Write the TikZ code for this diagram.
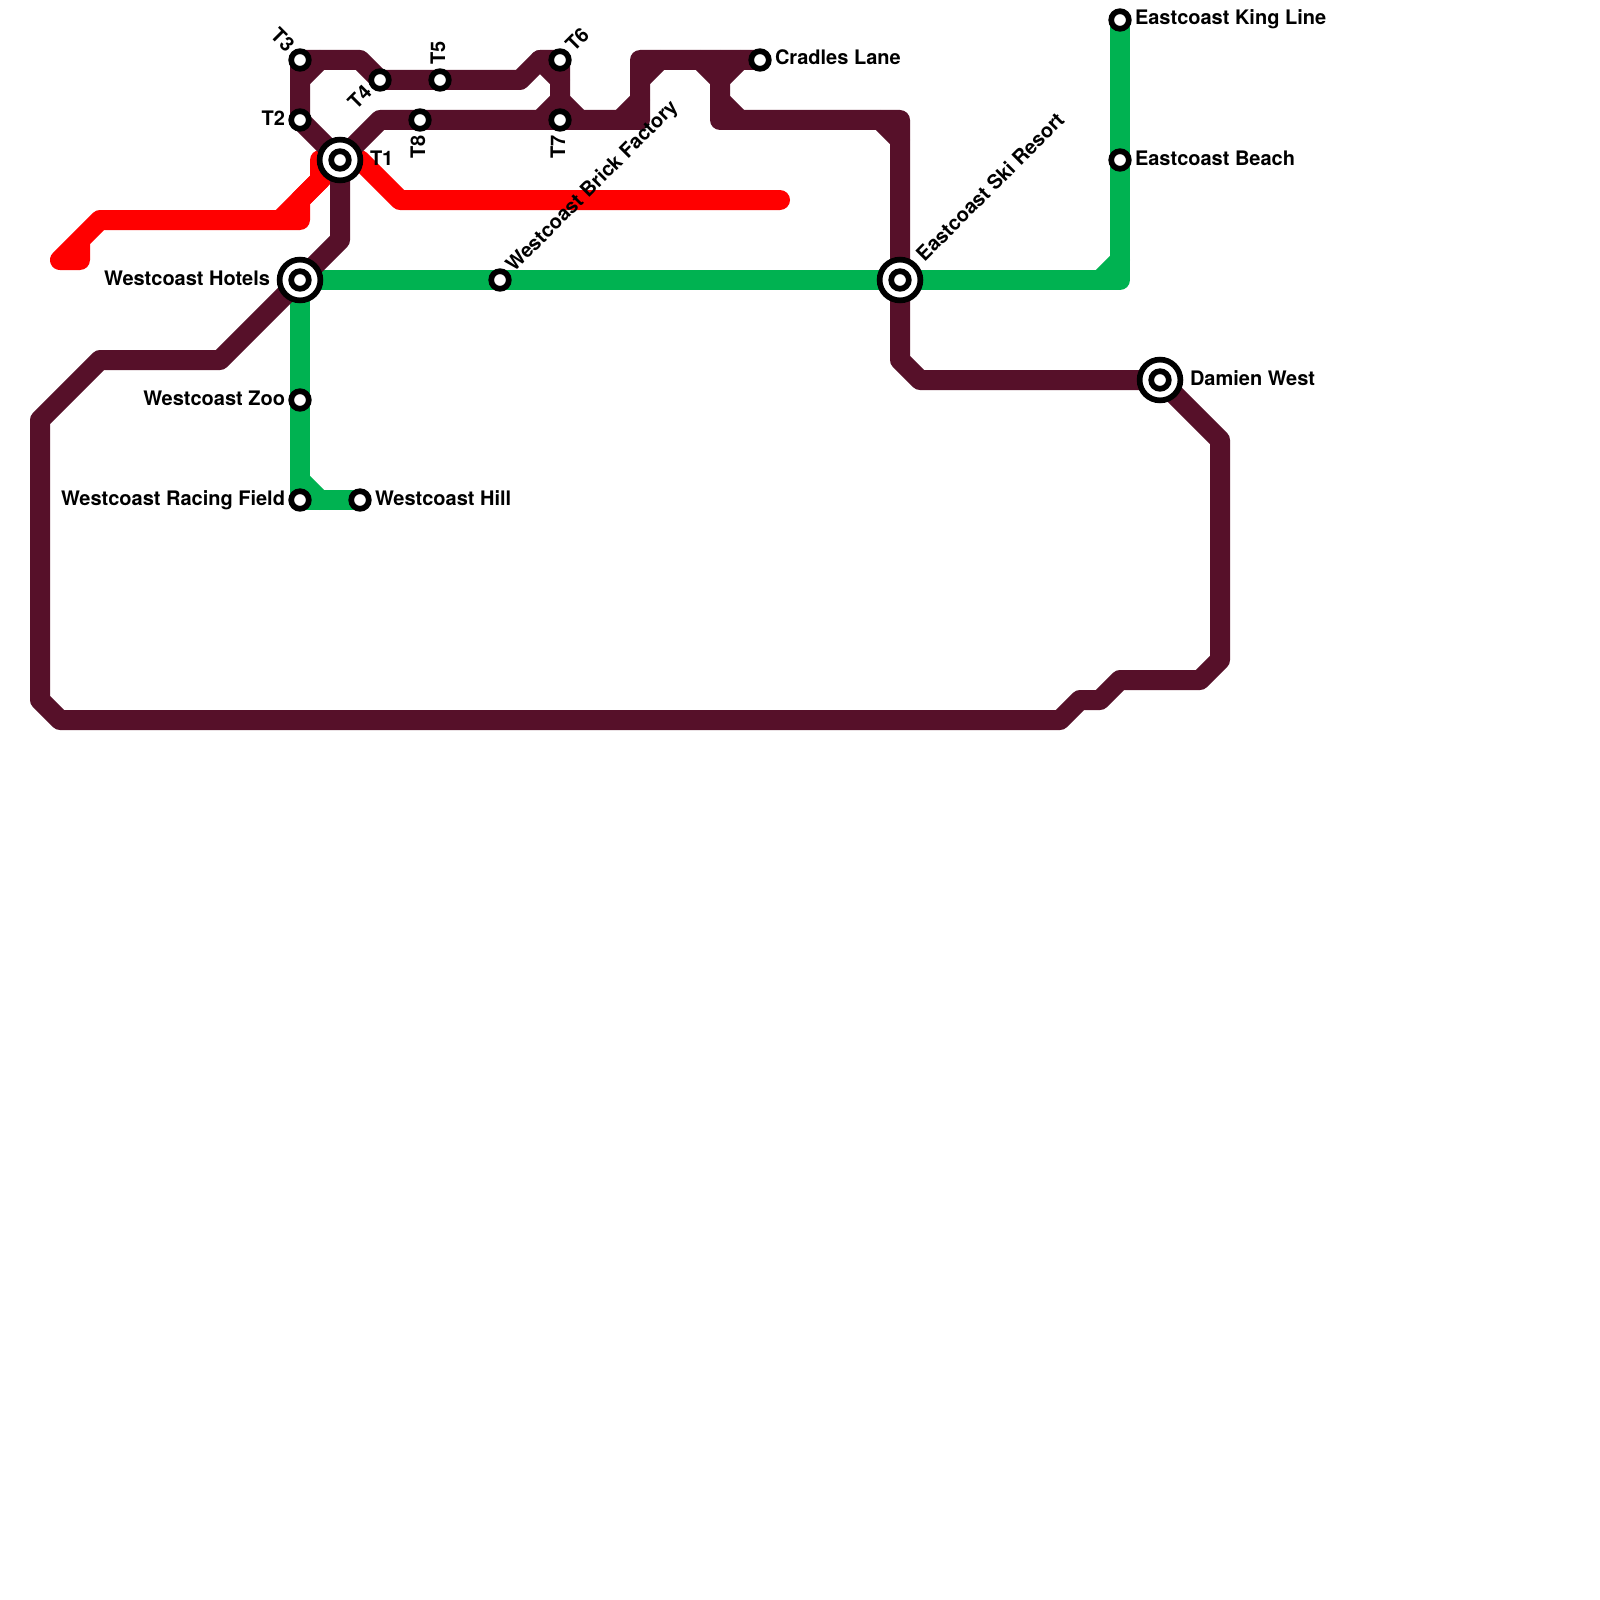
\documentclass[tikz,border=0pt]{standalone}
\usepackage{fontspec}
\setmainfont{TeX Gyre Heros}
\definecolor{plum}{HTML}{561029}
\definecolor{metrogreen}{HTML}{00B251}
\definecolor{metrored}{HTML}{FF0000}
\tikzset{
  route/.style={line width=20pt,line cap=round,line join=round},
  stop/.style={circle,draw=black,fill=white,line width=5.7pt,minimum size=17.6pt,inner sep=0pt,outer sep=0pt},
  hub/.style={circle,draw=black,fill=white,line width=5.7pt,minimum size=40.8pt,inner sep=0pt,outer sep=0pt},
  lbl/.style={inner sep=0pt,outer sep=0pt,font=\fontsize{20pt}{22pt}\selectfont\bfseries}
}
\begin{document}
\begin{tikzpicture}[x=1pt,y=-1pt]
\useasboundingbox (0,0) rectangle (1600,1600);
% station positions
\coordinate (T1) at (340,160);
\coordinate (T2) at (300,120);
\coordinate (T3) at (300,60);
\coordinate (T4) at (380,80);
\coordinate (T5) at (440,80);
\coordinate (T6) at (560,60);
\coordinate (T7) at (560,120);
\coordinate (T8) at (420,120);
\coordinate (CL) at (760,60);
\coordinate (WH) at (300,280);
\coordinate (WB) at (500,280);
\coordinate (ES) at (900,280);
\coordinate (EK) at (1120,20);
\coordinate (EB) at (1120,160);
\coordinate (DW) at (1160,380);
\coordinate (WZ) at (300,400);
\coordinate (WR) at (300,500);
\coordinate (WI) at (360,500);
% red
\draw[route,metrored] (80,240)--(80,260)--(60,260)--(100,220)--(300,220)--(300,200)--(T1);
\draw[route,metrored] (320,180)--(320,160)--(T1)--(360,160)--(400,200)--(780,200);
\draw[route,metrored] (280,220)--(320,180);
% green
\draw[route,metrogreen] (EK)--(EB)--(1120,280)--(ES)--(WB)--(WH)--(WZ)--(WR)--(WI);
\draw[route,metrogreen] (1100,280)--(1120,260);
\draw[route,metrogreen] (300,480)--(320,500);
% plum
\draw[route,plum] (T1)--(380,120)--(T8)--(T7)--(640,120)--(640,60)--(CL);
\draw[route,plum] (T1)--(T2)--(T3)--(360,60)--(T4)--(T5)--(520,80)--(540,60)--(T6)--(T7);
\draw[route,plum] (T1)--(340,240)--(WH)--(220,360)--(100,360)--(40,420)--(40,700)--(60,720)--(1060,720)--(1080,700)--(1100,700)--(1120,680)--(1200,680)--(1220,660)--(1220,440)--(DW)--(920,380)--(900,360)--(ES)--(900,120)--(720,120)--(720,60);
\draw[route,plum] (300,80)--(320,60);
\draw[route,plum] (540,60)--(560,80);
\draw[route,plum] (540,120)--(560,100)--(580,120);
\draw[route,plum] (620,120)--(640,100);
\draw[route,plum] (640,80)--(660,60);
\draw[route,plum] (700,60)--(720,80)--(740,60);
\draw[route,plum] (720,100)--(740,120);
\draw[route,plum] (880,120)--(900,140);
% interchange rings
\node[hub] (T1h) at (T1) {};
\node[hub] (WHh) at (WH) {};
\node[hub] (ESh) at (ES) {};
\node[hub] (DWh) at (DW) {};
% stations
\node[stop] (sT1) at (T1) {};
\node[stop] (sT2) at (T2) {};
\node[stop] (sT3) at (T3) {};
\node[stop] (sT4) at (T4) {};
\node[stop] (sT5) at (T5) {};
\node[stop] (sT6) at (T6) {};
\node[stop] (sT7) at (T7) {};
\node[stop] (sT8) at (T8) {};
\node[stop] (sCL) at (CL) {};
\node[stop] (sWH) at (WH) {};
\node[stop] (sWB) at (WB) {};
\node[stop] (sES) at (ES) {};
\node[stop] (sEK) at (EK) {};
\node[stop] (sEB) at (EB) {};
\node[stop] (sDW) at (DW) {};
\node[stop] (sWZ) at (WZ) {};
\node[stop] (sWR) at (WR) {};
\node[stop] (sWI) at (WI) {};
% labels
\node[lbl,anchor=base west] (lT1) at (370,165) {T1};
\node[lbl,anchor=base east] (lT2) at (285,125) {T2};
\node[lbl,anchor=base east,rotate=-45] (lT3) at (285.9,52.9) {T3};
\node[lbl,anchor=base east,rotate=45] (lT4) at (372.9,94.1) {T4};
\node[lbl,anchor=base west,rotate=90] (lT5) at (445,65) {T5};
\node[lbl,anchor=base west,rotate=45] (lT6) at (574.1,52.9) {T6};
\node[lbl,anchor=base east,rotate=90] (lT7) at (565,135) {T7};
\node[lbl,anchor=base east,rotate=90] (lT8) at (425,135) {T8};
\node[lbl,anchor=base west] (lCL) at (775,65) {Cradles Lane};
\node[lbl,anchor=base east] (lWH) at (270,285) {Westcoast Hotels};
\node[lbl,anchor=base west,rotate=45] (lWB) at (514.1,272.9) {Westcoast Brick Factory};
\node[lbl,anchor=base west,rotate=45] (lES) at (924.7,262.3) {Eastcoast Ski Resort};
\node[lbl,anchor=base west] (lEK) at (1135,25) {Eastcoast King Line};
\node[lbl,anchor=base west] (lEB) at (1135,165) {Eastcoast Beach};
\node[lbl,anchor=base west] (lDW) at (1190,385) {Damien West};
\node[lbl,anchor=base east] (lWZ) at (285,405) {Westcoast Zoo};
\node[lbl,anchor=base east] (lWR) at (285,505) {Westcoast Racing Field};
\node[lbl,anchor=base west] (lWI) at (375,505) {Westcoast Hill};
\end{tikzpicture}
\end{document}
